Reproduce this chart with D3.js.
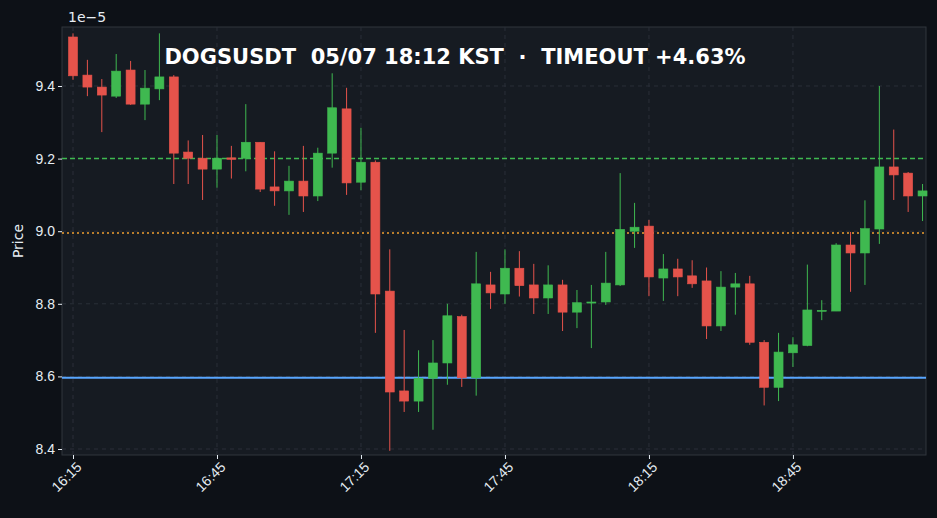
<!DOCTYPE html>
<html>
<head>
<meta charset="utf-8">
<script src="https://cdn.jsdelivr.net/npm/d3@7"></script>
<style>
  body { margin: 0; background: #0d1117; }
  svg { display: block; font-family: "DejaVu Sans", sans-serif; }
</style>
</head>
<body>
<svg id="chart" width="937" height="518"></svg>
<script>
// 3-minute candles starting 16:15, prices in units of 1e-5
const opens  = [9.535,9.430,9.397,9.372,9.444,9.350,9.392,9.425,9.218,9.201,
                9.171,9.202,9.201,9.245,9.122,9.111,9.138,9.097,9.215,9.337,
                9.135,9.190,8.835,8.560,8.532,8.595,8.637,8.765,8.596,8.852,
                8.827,8.898,8.852,8.816,8.852,8.777,8.802,8.805,8.852,9.000,
                9.014,8.871,8.896,8.877,8.863,8.739,8.846,8.855,8.694,8.570,
                8.665,8.685,8.780,8.780,8.962,8.940,9.006,9.177,9.160,9.097];
const highs  = [9.545,9.472,9.419,9.488,9.469,9.444,9.545,9.430,9.250,9.265,
                9.265,9.235,9.350,9.245,9.220,9.180,9.235,9.230,9.435,9.395,
                9.285,9.195,8.950,8.728,8.672,8.700,8.800,8.770,8.943,8.888,
                8.950,8.945,8.910,8.906,8.866,8.838,8.852,8.943,9.160,9.078,
                9.031,8.937,8.924,8.920,8.900,8.890,8.885,8.877,8.700,8.720,
                8.708,8.908,8.810,8.967,8.998,9.085,9.400,9.280,9.163,9.130];
const lows   = [9.417,9.372,9.273,9.367,9.348,9.306,9.361,9.130,9.130,9.086,
                9.120,9.145,9.165,9.108,9.070,9.045,9.053,9.083,9.175,9.100,
                9.113,8.720,8.395,8.502,8.502,8.453,8.577,8.571,8.547,8.786,
                8.800,8.820,8.772,8.772,8.725,8.733,8.678,8.797,8.849,8.954,
                8.821,8.808,8.821,8.844,8.703,8.725,8.770,8.687,8.520,8.532,
                8.626,8.683,8.755,8.780,8.833,8.852,8.965,9.086,9.053,9.028];
const closes = [9.428,9.397,9.375,9.441,9.350,9.394,9.425,9.215,9.201,9.171,
                9.201,9.198,9.245,9.116,9.111,9.138,9.097,9.215,9.340,9.133,
                9.190,8.827,8.557,8.532,8.595,8.637,8.767,8.596,8.855,8.830,
                8.898,8.850,8.816,8.852,8.777,8.803,8.805,8.857,9.005,9.011,
                8.874,8.896,8.874,8.855,8.739,8.846,8.855,8.694,8.570,8.667,
                8.687,8.783,8.782,8.962,8.940,9.007,9.177,9.155,9.097,9.111];
const yTicks = [8.4, 8.6, 8.8, 9.0, 9.2, 9.4];
const xTickLabels = ["16:15","16:45","17:15","17:45","18:15","18:45"];
const takeProfit = 9.2, entry = 8.995, stopLevel = 8.596;
const title = "DOGSUSDT  05/07 18:12 KST  ·  TIMEOUT +4.63%";

const svg = d3.select("#chart");
const W = 937, H = 518;
const m = {left: 62, right: 11, top: 27, bottom: 63};

svg.append("rect").attr("width", W).attr("height", H).attr("fill", "#0d1117");
svg.append("rect")
    .attr("x", m.left).attr("y", m.top)
    .attr("width", W - m.left - m.right).attr("height", H - m.top - m.bottom)
    .attr("fill", "#161b22").attr("stroke", "#30363d");

const x = d3.scaleLinear().domain([-0.764, 59.24]).range([m.left, W - m.right]);
const y = d3.scaleLinear().domain([8.3835, 9.5625]).range([H - m.bottom, m.top]);

const tickIdx = xTickLabels.map((d, i) => i * 10);

// grid
svg.append("g").selectAll("line").data(yTicks).join("line")
    .attr("x1", m.left).attr("x2", W - m.right)
    .attr("y1", d => y(d)).attr("y2", d => y(d))
    .attr("stroke", "#2a2f38").attr("stroke-dasharray", "4,4");
svg.append("g").selectAll("line").data(tickIdx).join("line")
    .attr("y1", m.top).attr("y2", H - m.bottom)
    .attr("x1", d => x(d)).attr("x2", d => x(d))
    .attr("stroke", "#2a2f38").attr("stroke-dasharray", "4,4");

// reference lines
svg.append("line").attr("x1", m.left).attr("x2", W - m.right)
    .attr("y1", y(takeProfit)).attr("y2", y(takeProfit))
    .attr("stroke", "#3fb950").attr("stroke-width", 1.5).attr("stroke-dasharray", "5,3");
svg.append("line").attr("x1", m.left).attr("x2", W - m.right)
    .attr("y1", y(entry)).attr("y2", y(entry))
    .attr("stroke", "#f0a030").attr("stroke-width", 1.5).attr("stroke-dasharray", "2,3");
svg.append("line").attr("x1", m.left).attr("x2", W - m.right)
    .attr("y1", y(stopLevel)).attr("y2", y(stopLevel))
    .attr("stroke", "#58a6ff").attr("stroke-width", 2);

// candles
const candles = opens.map((o, i) => ({i, o, h: highs[i], l: lows[i], c: closes[i]}));
const col = d => d.c >= d.o ? "#3fb950" : "#e5534b";
const g = svg.append("g");
g.selectAll("line").data(candles).join("line")
    .attr("x1", d => x(d.i)).attr("x2", d => x(d.i))
    .attr("y1", d => y(d.h)).attr("y2", d => y(d.l))
    .attr("stroke", col).attr("stroke-width", 1);
g.selectAll("rect").data(candles).join("rect")
    .attr("x", d => x(d.i) - 4.5).attr("width", 9)
    .attr("y", d => y(Math.max(d.o, d.c)))
    .attr("height", d => Math.max(1, Math.abs(y(d.o) - y(d.c))))
    .attr("fill", col).attr("stroke", col).attr("stroke-width", 0.6);

// axes
const yAxis = svg.append("g").attr("transform", `translate(${m.left},0)`)
    .call(d3.axisLeft(y).tickValues(yTicks).tickFormat(d3.format(".1f")).tickSize(4));
const xAxis = svg.append("g").attr("transform", `translate(0,${H - m.bottom})`)
    .call(d3.axisBottom(x).tickValues(tickIdx).tickFormat((d, i) => xTickLabels[i]).tickSize(4));
[xAxis, yAxis].forEach(a => {
  a.select(".domain").remove();
  a.selectAll("line").attr("stroke", "#e6edf3");
  a.selectAll("text").attr("fill", "#e6edf3").attr("font-size", 14);
});
xAxis.selectAll("text")
    .attr("text-anchor", "end").attr("dx", "-0.2em").attr("dy", "0.6em")
    .attr("transform", "rotate(-45)");

svg.append("text").attr("x", 68).attr("y", 22).attr("fill", "#e6edf3")
    .attr("font-size", 14).text("1e\u22125");
svg.append("text").attr("transform", `translate(23,${(m.top + H - m.bottom) / 2}) rotate(-90)`)
    .attr("text-anchor", "middle").attr("fill", "#e6edf3").attr("font-size", 14).text("Price");
svg.append("text").attr("x", 455).attr("y", 64).attr("text-anchor", "middle")
    .attr("fill", "#ffffff").attr("font-size", 21).attr("font-weight", "bold")
    .attr("xml:space", "preserve").style("white-space", "pre").text(title);
</script>
</body>
</html>
